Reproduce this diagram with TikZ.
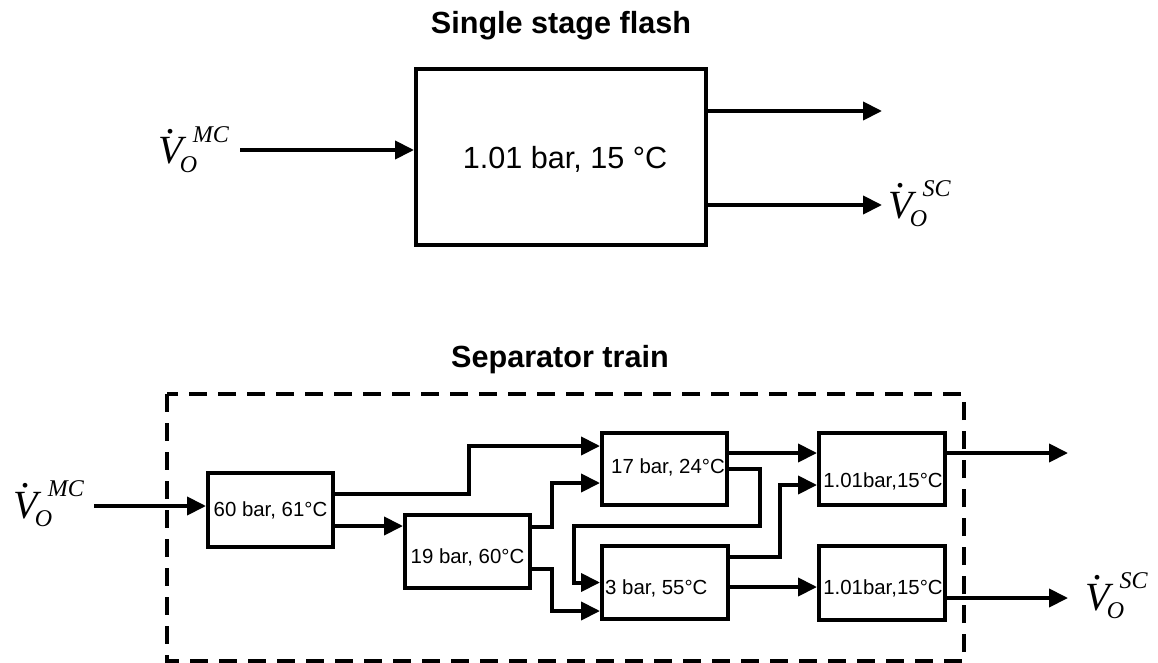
\documentclass[tikz,border=0pt]{standalone}
\usepackage{fontspec}
\setmainfont{Liberation Sans}
\newfontfamily\tnr{Liberation Serif}
\usetikzlibrary{arrows.meta,calc}
\newcommand\flowlbl[1]{{\tnr\itshape\fontsize{40}{40}\selectfont
 \rlap{\kern0.2em\raisebox{0.76em}{.}}V%
 \fontsize{24}{24}\selectfont
 \rlap{\kern-0.12em\raisebox{-0.34em}{O}}%
 \kern0.42em\raisebox{0.88em}{#1}}}
\begin{document}
\begin{tikzpicture}[x=1pt,y=-1pt,
  unit/.style={draw, line width=4pt, inner sep=0pt},
  flow/.style={line width=4pt, -{Triangle[length=19pt,width=18pt]}},
  titletxt/.style={inner sep=0pt, font=\bfseries\fontsize{30.6}{30.6}\selectfont},
  bigtxt/.style={inner sep=0pt, font=\fontsize{30.6}{30.6}\selectfont},
  smalltxt/.style={inner sep=0pt, font=\fontsize{20.4}{20.4}\selectfont},
  lbl/.style={inner sep=0pt},
  trainbox/.style={line width=4pt, dash pattern=on 18pt off 11pt}]
\useasboundingbox (0,0) rectangle (1158,663);

% ---------- Single stage flash ----------
\node[titletxt, anchor=base] (title1) at (561,34) {Single stage flash};
\node[unit, minimum width=290pt, minimum height=176pt] (T) at (561,157) {};
\node[bigtxt, anchor=base] (tT) at (565,168) {1.01 bar, 15 °C};
\node[lbl, anchor=base east] (lblT1) at (229,164) {\flowlbl{MC}};
\node[lbl, anchor=base west] (lblT2) at (888,218) {\flowlbl{SC}};
\coordinate (inT) at (240,150);
\coordinate (oT1) at (882,111);
\coordinate (oT2) at (882,205);
\draw[flow] (inT) -- (inT -| T.west);
\draw[flow] (oT1 -| T.east) -- (oT1);
\draw[flow] (oT2 -| T.east) -- (oT2);

% ---------- Separator train ----------
\node[titletxt, anchor=base] (title2) at (560,367) {Separator train};
\draw[trainbox] (167,394) rectangle (964,661);

\node[unit, minimum width=125pt, minimum height=74pt] (A) at (270.5,510) {};
\node[unit, minimum width=125pt, minimum height=73pt] (B) at (467.5,551.5) {};
\node[unit, minimum width=125pt, minimum height=72pt] (C) at (664.5,469) {};
\node[unit, minimum width=126pt, minimum height=73pt] (D) at (665,582.5) {};
\node[unit, minimum width=126pt, minimum height=72pt] (E) at (882,469) {};
\node[unit, minimum width=126pt, minimum height=74pt] (F) at (882,583) {};

\node[smalltxt, anchor=base] (tA) at (270.5,516) {60 bar, 61°C};
\node[smalltxt, anchor=base] (tB) at (467.5,563) {19 bar, 60°C};
\node[smalltxt, anchor=base] (tC) at (668,473) {17 bar, 24°C};
\node[smalltxt, anchor=base west] (tD) at (605,594) {3 bar, 55°C};
\node[smalltxt, anchor=base] (tE) at (883,487) {1.01bar,15°C};
\node[smalltxt, anchor=base] (tF) at (883,594) {1.01bar,15°C};

\node[lbl, anchor=base east] (lblB1) at (84,518) {\flowlbl{MC}};
\node[lbl, anchor=base west] (lblB2) at (1085,610) {\flowlbl{SC}};

\coordinate (inB) at (94,506);
\coordinate (oE) at (1068,453);
\coordinate (oF) at (1068,598);

\draw[flow] (inB) -- (inB -| A.west);
\draw[flow] ($(A.east)+(0,-16)$) -- ++(134,0) |- ($(C.west)+(0,-23)$);
\draw[flow] ($(A.east)+(0,16)$) -- ($(B.west)+(0,-25.5)$);
\draw[flow] ($(B.east)+(0,-24.5)$) -- ++(20,0) |- ($(C.west)+(0,14)$);
\draw[flow] ($(B.east)+(0,17.5)$) -- ++(20,0) |- ($(D.west)+(0,28.5)$);
\draw[flow] ($(C.east)+(0,-16)$) -- ($(E.west)+(0,-16)$);
\draw[flow] (C.east) -- ++(31,0) |- ++(-186,57) |- (D.west);
\draw[flow] ($(D.east)+(0,-25.5)$) -- ++(50,0) |- ($(E.west)+(0,16)$);
\draw[flow] ($(D.east)+(0,4.5)$) -- ($(F.west)+(0,4)$);
\draw[flow] (oE -| E.east) -- (oE);
\draw[flow] (oF -| F.east) -- (oF);
\end{tikzpicture}
\end{document}
